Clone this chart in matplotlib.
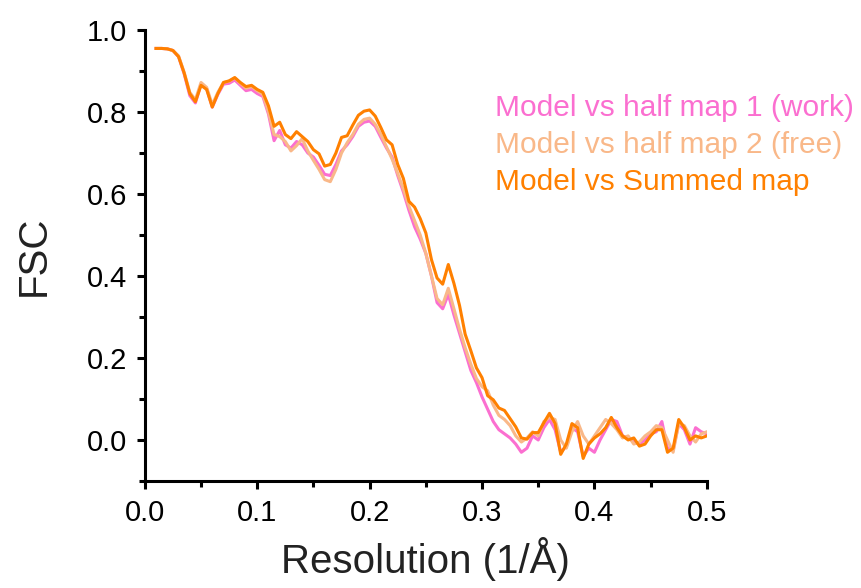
import numpy as np
import matplotlib
matplotlib.use("Agg")
import matplotlib.pyplot as plt
from matplotlib.ticker import MultipleLocator

plt.rcParams['font.family'] = ['Liberation Sans', 'DejaVu Sans']

# frequences echantillonnees (1/A)
resolution = np.arange(0.010, 0.5001, 0.005)

# FSC modele vs carte sommee
fsc_sum = [0.955, 0.955, 0.954, 0.950, 0.935, 0.895, 0.845, 0.825, 0.865, 0.855,
           0.812, 0.845, 0.872, 0.876, 0.884, 0.872, 0.862, 0.865, 0.855, 0.848,
           0.815, 0.765, 0.775, 0.745, 0.735, 0.752, 0.740, 0.728, 0.708, 0.698,
           0.668, 0.672, 0.700, 0.738, 0.742, 0.768, 0.792, 0.802, 0.805, 0.790,
           0.762, 0.732, 0.720, 0.672, 0.638, 0.582, 0.568, 0.540, 0.505, 0.440,
           0.395, 0.380, 0.428, 0.382, 0.328, 0.258, 0.218, 0.176, 0.152, 0.108,
           0.098, 0.078, 0.072, 0.052, 0.032, 0.005, 0.002, 0.018, 0.018, 0.042,
           0.065, 0.040, -0.035, -0.010, 0.040, 0.030, -0.045, -0.010, 0.005, 0.015,
           0.030, 0.055, 0.030, 0.010, 0.000, 0.005, -0.015, -0.010, 0.010, 0.025,
           0.025, -0.030, -0.020, 0.050, 0.030, 0.000, 0.010, 0.005, 0.010]

# FSC modele vs demi-carte 1 (work)
fsc_work = [0.955, 0.955, 0.954, 0.950, 0.935, 0.893, 0.840, 0.822, 0.868, 0.857,
            0.812, 0.843, 0.868, 0.870, 0.878, 0.865, 0.852, 0.855, 0.845, 0.838,
            0.795, 0.730, 0.755, 0.720, 0.712, 0.728, 0.720, 0.700, 0.690, 0.670,
            0.648, 0.645, 0.672, 0.705, 0.720, 0.740, 0.765, 0.775, 0.778, 0.765,
            0.738, 0.712, 0.690, 0.645, 0.605, 0.560, 0.520, 0.490, 0.455, 0.400,
            0.335, 0.320, 0.355, 0.305, 0.260, 0.215, 0.170, 0.140, 0.105, 0.075,
            0.045, 0.025, 0.015, 0.005, -0.010, -0.030, -0.020, 0.010, 0.000, 0.030,
            0.050, 0.025, -0.030, -0.015, 0.030, 0.020, -0.040, -0.020, -0.030, 0.000,
            0.025, 0.050, 0.045, 0.010, 0.005, -0.005, -0.010, 0.000, 0.015, 0.020,
            0.045, -0.020, -0.025, 0.040, 0.025, -0.010, 0.030, 0.020, 0.015]

# FSC modele vs demi-carte 2 (free)
fsc_free = [0.955, 0.955, 0.954, 0.950, 0.937, 0.897, 0.848, 0.830, 0.872, 0.860,
            0.818, 0.848, 0.872, 0.875, 0.883, 0.870, 0.858, 0.862, 0.852, 0.843,
            0.800, 0.745, 0.740, 0.728, 0.705, 0.718, 0.735, 0.705, 0.682, 0.660,
            0.635, 0.630, 0.660, 0.700, 0.725, 0.745, 0.770, 0.782, 0.785, 0.770,
            0.745, 0.715, 0.685, 0.650, 0.612, 0.570, 0.535, 0.500, 0.455, 0.400,
            0.345, 0.330, 0.370, 0.320, 0.270, 0.225, 0.185, 0.150, 0.130, 0.120,
            0.085, 0.060, 0.050, 0.035, 0.010, -0.005, 0.005, 0.020, 0.010, 0.045,
            0.055, 0.050, 0.000, -0.020, 0.020, 0.045, 0.010, -0.010, 0.010, 0.030,
            0.050, 0.040, 0.025, 0.005, 0.010, -0.010, -0.005, 0.010, 0.020, 0.035,
            0.030, 0.000, -0.030, 0.040, 0.035, 0.010, -0.005, 0.015, 0.020]

labels = ["Model vs half map 1 (work)", "Model vs half map 2 (free)", "Model vs Summed map"]
couleurs = ["#fb6fd0", "#f9b889", "#ff8000"]

fig = plt.figure(figsize=(8.62, 5.88), dpi=100)
ax = fig.add_axes([0.168, 0.182, 0.652, 0.767])

for serie, c in zip([fsc_work, fsc_free, fsc_sum], couleurs):
    ax.plot(resolution, serie, color=c, linewidth=2.2)

ax.set_xlim(0, 0.5)
ax.set_ylim(-0.1, 1.0)
ax.xaxis.set_major_locator(MultipleLocator(0.1))
ax.xaxis.set_minor_locator(MultipleLocator(0.05))
ax.yaxis.set_major_locator(MultipleLocator(0.2))
ax.yaxis.set_minor_locator(MultipleLocator(0.1))
ax.xaxis.set_major_formatter(plt.FuncFormatter(lambda v, p: "%.1f" % v))
ax.yaxis.set_major_formatter(plt.FuncFormatter(lambda v, p: "%.1f" % v))

for s in ["top", "right"]:
    ax.spines[s].set_visible(False)
for s in ["left", "bottom"]:
    ax.spines[s].set_linewidth(2.2)
ax.tick_params(which="major", length=6, width=2.2, labelsize=21, pad=7)
ax.tick_params(which="minor", length=4, width=2.2)

ax.set_xlabel("Resolution (1/Å)", fontsize=29, color="#222222", labelpad=7)
ax.set_ylabel("FSC", fontsize=29, color="#222222", labelpad=24)

# legende en texte colore
for i, (lab, c) in enumerate(zip(labels, couleurs)):
    ax.text(0.623, 0.826 - i * 0.081, lab, color=c, fontsize=21.5,
            transform=ax.transAxes, va="center", ha="left", clip_on=False)

fig.savefig("out.png", dpi=100)
